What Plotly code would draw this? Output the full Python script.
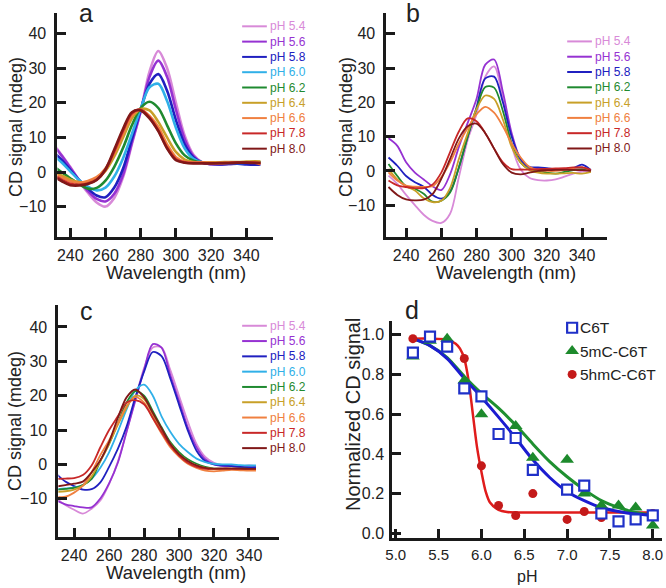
import plotly.graph_objects as go

W, H = 666, 588
FONT = "Liberation Sans, Arial, Helvetica, sans-serif"

# ---------------- data ----------------
ph_names = ['pH 5.4', 'pH 5.6', 'pH 5.8', 'pH 6.0', 'pH 6.2', 'pH 6.4', 'pH 6.6', 'pH 7.8', 'pH 8.0']
ph_colors = ['#d88ad8', '#9632d2', '#2020c0', '#30b0e8', '#1f8a30', '#c8a028', '#f08040', '#c82828', '#801818']

# panel a
wl_a = [230, 235, 240, 245, 250, 255, 260, 265, 270, 275, 280, 285, 290, 295, 300, 305, 310, 315, 320, 325, 330, 335, 340, 345, 348]
a_54 = [8.5, 5.0, 1.5, -2.5, -6.0, -8.8, -10.0, -7.5, -1.5, 8.0, 17.5, 29.0, 35.0, 30.0, 20.0, 10.5, 5.0, 2.8, 2.2, 2.3, 2.5, 2.7, 2.8, 2.8, 2.7]
a_56 = [8.0, 4.8, 1.2, -2.3, -5.5, -7.8, -8.5, -6.3, -0.8, 8.5, 17.5, 27.5, 32.2, 27.5, 18.0, 9.5, 4.6, 2.7, 2.3, 2.2, 2.3, 2.5, 2.6, 2.7, 2.7]
a_58 = [6.0, 3.6, 0.6, -2.3, -4.8, -6.8, -7.3, -4.5, 1.0, 9.5, 18.0, 25.5, 28.3, 23.5, 15.0, 8.0, 4.2, 2.7, 2.3, 2.2, 2.3, 2.4, 2.2, 2.1, 2.1]
a_60 = [5.0, 2.8, 0.2, -2.3, -4.2, -5.3, -4.5, -1.3, 4.0, 11.0, 18.3, 24.5, 25.5, 20.5, 12.8, 6.8, 3.8, 2.8, 2.5, 2.5, 2.6, 2.6, 2.7, 2.7, 2.7]
a_62 = [1.8, 0.0, -1.8, -3.5, -4.8, -4.6, -2.5, 1.5, 7.0, 13.5, 18.5, 20.3, 18.5, 13.5, 8.3, 4.8, 3.3, 2.8, 2.7, 2.7, 2.8, 2.8, 2.8, 2.8, 2.8]
a_64 = [0.2, -1.0, -2.2, -2.9, -2.9, -2.0, 0.3, 4.5, 10.0, 15.5, 18.2, 17.8, 14.5, 10.0, 5.8, 3.6, 2.9, 2.8, 2.8, 2.8, 2.9, 2.9, 3.0, 3.1, 3.0]
a_66 = [-0.3, -1.5, -2.7, -3.1, -2.6, -1.5, 1.0, 5.5, 11.0, 16.3, 18.0, 16.2, 13.0, 8.0, 4.3, 3.0, 2.8, 2.8, 2.7, 2.7, 2.7, 2.8, 2.8, 2.7, 2.2]
a_78 = [-0.8, -2.2, -3.4, -3.7, -3.3, -2.2, 0.6, 6.0, 12.0, 17.0, 18.0, 15.8, 12.0, 7.0, 3.7, 2.8, 2.6, 2.6, 2.5, 2.5, 2.6, 2.7, 2.7, 2.7, 2.6]
a_80 = [-1.2, -2.6, -3.8, -3.9, -3.5, -2.3, 0.8, 6.5, 12.5, 17.3, 17.8, 15.5, 11.8, 6.8, 3.4, 2.7, 2.5, 2.5, 2.5, 2.6, 2.6, 2.7, 2.7, 2.6, 2.6]

# panel b (no pH 6.0)
wl_b = [230, 235, 240, 245, 250, 255, 260, 265, 270, 275, 280, 285, 290, 295, 300, 305, 310, 315, 320, 325, 330, 335, 340, 345]
b_54 = [-1.4, -3.8, -7.0, -10.0, -12.8, -14.6, -15.2, -12.5, -1.8, 9.0, 16.5, 27.5, 30.5, 21.0, 7.5, 0.5, -2.0, -2.7, -2.8, -2.5, -1.7, -0.8, -0.2, 0.0]
b_56 = [9.5, 7.3, 2.5, -0.5, -2.5, -4.5, -5.6, -1.0, 7.0, 14.0, 21.0, 31.0, 32.5, 23.0, 11.0, 3.5, 1.0, 0.5, 0.3, 0.3, 0.5, 0.8, 1.0, 0.0]
b_58 = [3.9, 1.5, -1.5, -3.3, -4.6, -7.0, -8.1, -6.0, 1.0, 10.0, 18.5, 27.0, 27.5, 20.0, 10.0, 3.5, 1.2, 1.0, 0.8, 0.5, 0.5, 0.8, 1.8, 0.2]
b_62 = [2.0, -1.5, -4.5, -5.2, -6.7, -9.0, -8.7, -6.3, 1.0, 10.0, 18.0, 24.5, 24.3, 17.5, 8.0, 2.5, 0.5, 0.0, -0.5, -0.8, -0.3, 0.2, 0.5, 0.0]
b_64 = [0.6, -2.5, -4.5, -5.7, -8.0, -9.1, -8.7, -5.0, 3.5, 11.0, 18.0, 22.0, 21.0, 15.0, 7.0, 2.5, 0.3, -0.5, -0.8, -0.8, -0.7, -0.6, -0.8, -0.3]
b_66 = [-0.4, -2.8, -4.3, -4.6, -4.7, -4.5, -1.8, 2.5, 8.0, 12.5, 16.5, 18.7, 17.0, 13.0, 8.0, 4.0, 1.2, 0.2, 0.0, 0.0, 0.3, 0.8, 1.0, 0.0]
b_78 = [-2.8, -4.2, -4.7, -5.0, -5.0, -4.0, -0.5, 5.5, 11.5, 15.3, 14.5, 11.0, 6.5, 2.5, 0.5, 0.4, 0.4, 0.5, 0.6, 0.7, 0.8, 1.0, 1.0, 0.3]
b_80 = [-4.7, -7.0, -8.3, -8.6, -8.4, -6.8, -2.3, 3.5, 9.5, 13.0, 13.8, 11.0, 6.5, 2.0, -0.5, -1.0, -0.5, 0.0, 0.2, 0.3, 0.3, 0.3, 0.2, 0.0]

# panel c
wl_c = [230, 235, 240, 245, 250, 255, 260, 265, 270, 275, 280, 285, 290, 295, 300, 305, 310, 315, 320, 325, 330, 335, 340, 344]
c_54 = [-10.0, -11.8, -13.2, -14.3, -12.9, -10.5, -5.7, 0.8, 9.5, 19.0, 28.0, 34.0, 34.0, 27.5, 20.0, 12.5, 6.0, 2.2, 0.5, -0.2, -0.4, -0.5, -0.3, -0.5]
c_56 = [-10.5, -11.6, -12.1, -12.5, -12.5, -9.9, -5.5, 0.5, 9.5, 18.5, 27.5, 35.0, 34.0, 26.0, 18.5, 10.8, 5.0, 1.5, 0.0, -0.5, -0.5, -0.8, -1.0, -1.0]
c_58 = [-2.8, -5.0, -6.3, -7.3, -7.2, -5.2, -0.7, 4.5, 11.0, 19.5, 27.0, 32.7, 31.5, 25.0, 17.4, 9.9, 4.0, 1.0, 0.0, -0.3, -0.5, -0.7, -0.8, -0.8]
c_60 = [-7.2, -7.0, -6.7, -6.0, -4.2, -1.0, 3.5, 9.5, 16.0, 21.5, 23.2, 20.0, 14.0, 9.5, 6.0, 3.6, 1.7, 0.7, 0.2, 0.0, 0.0, -0.2, -0.3, -0.3]
c_62 = [-7.4, -7.1, -6.8, -6.0, -4.2, 1.0, 6.0, 12.0, 18.0, 21.3, 20.0, 15.5, 10.8, 6.5, 3.6, 1.5, 0.2, -0.7, -1.2, -1.2, -1.2, -1.2, -1.3, -1.3]
c_64 = [-8.0, -7.8, -7.3, -6.2, -3.5, 1.0, 6.0, 11.5, 16.5, 20.0, 19.0, 14.5, 10.0, 6.0, 3.0, 1.0, -0.3, -1.0, -1.3, -1.3, -1.3, -1.3, -1.4, -1.4]
c_66 = [-9.4, -9.4, -8.2, -6.2, -2.3, 2.7, 7.0, 12.0, 17.0, 19.6, 18.0, 13.5, 9.0, 5.0, 2.3, 0.2, -1.0, -1.8, -2.0, -1.8, -1.6, -1.7, -1.8, -1.8]
c_78 = [-4.2, -4.1, -4.0, -3.1, -0.3, 5.0, 10.0, 14.0, 18.0, 18.7, 17.5, 13.5, 9.4, 5.5, 2.6, 0.5, -0.7, -1.3, -1.3, -1.2, -1.2, -1.3, -1.3, -1.3]
c_80 = [-6.4, -6.0, -5.6, -5.0, -2.3, 1.2, 6.5, 13.5, 19.5, 21.8, 19.5, 15.0, 10.5, 6.0, 3.0, 1.0, -0.3, -1.0, -1.2, -1.2, -1.2, -1.2, -1.3, -1.3]

# panel d
ph_c6t = [5.2, 5.4, 5.6, 5.8, 6.0, 6.2, 6.4, 6.6, 7.0, 7.2, 7.4, 7.6, 7.8, 8.0]
val_c6t = [0.91, 0.99, 0.94, 0.73, 0.69, 0.50, 0.48, 0.32, 0.22, 0.24, 0.10, 0.06, 0.07, 0.09]
ph_5mc = [5.2, 5.4, 5.6, 5.8, 6.0, 6.4, 6.6, 7.0, 7.2, 7.4, 7.6, 7.8, 8.0]
val_5mc = [0.89, 0.97, 0.98, 0.77, 0.60, 0.54, 0.38, 0.37, 0.20, 0.14, 0.14, 0.13, 0.04]
ph_5hmc = [5.2, 5.8, 6.0, 6.2, 6.4, 6.6, 7.0, 7.2, 7.4, 8.0]
val_5hmc = [0.98, 0.88, 0.34, 0.14, 0.09, 0.20, 0.07, 0.11, 0.08, 0.10]

fit_ph = [5.2, 5.4, 5.6, 5.8, 6.0, 6.2, 6.4, 6.6, 6.8, 7.0, 7.2, 7.4, 7.6, 7.8, 8.0]
fit_c6t = [0.98, 0.945, 0.88, 0.78, 0.685, 0.585, 0.48, 0.37, 0.28, 0.21, 0.165, 0.13, 0.11, 0.097, 0.09]
fit_5mc = [0.98, 0.945, 0.885, 0.79, 0.705, 0.63, 0.545, 0.45, 0.36, 0.285, 0.22, 0.165, 0.13, 0.105, 0.09]
fit_hmc_ph = [5.2, 5.4, 5.6, 5.7, 5.75, 5.8, 5.85, 5.9, 5.95, 6.0, 6.05, 6.1, 6.2, 6.3, 6.5, 7.0, 7.5, 8.0]
fit_5hmc = [0.98, 0.98, 0.975, 0.955, 0.93, 0.88, 0.77, 0.60, 0.43, 0.31, 0.21, 0.155, 0.118, 0.108, 0.105, 0.105, 0.105, 0.105]

d_names = ['C6T', '5mC-C6T', '5hmC-C6T']
d_colors = ['#1f30c8', '#1d8a2c', '#c41a1a']

wl_ticks = [240, 260, 280, 300, 320, 340]
cd_ticks = [-10, 0, 10, 20, 30, 40]
ph_ticks = [5.0, 5.5, 6.0, 6.5, 7.0, 7.5, 8.0]
norm_ticks = [0.0, 0.2, 0.4, 0.6, 0.8, 1.0]


def px(x):
    return x / W


def py(y):
    return 1 - y / H


fig = go.Figure()

panels = [
    ('x', 'y', wl_a, [a_54, a_56, a_58, a_60, a_62, a_64, a_66, a_78, a_80], list(range(9)), 2.6),
    ('x2', 'y2', wl_b, [b_54, b_56, b_58, b_62, b_64, b_66, b_78, b_80], [0, 1, 2, 4, 5, 6, 7, 8], 1.8),
    ('x3', 'y3', wl_c, [c_54, c_56, c_58, c_60, c_62, c_64, c_66, c_78, c_80], list(range(9)), 1.8),
]
for xa, ya, wl, series, idx, lw in panels:
    for s, i in zip(series, idx):
        fig.add_trace(go.Scatter(x=wl, y=s, mode='lines', xaxis=xa, yaxis=ya,
                                 line=dict(color=ph_colors[i], width=lw, shape='spline', smoothing=0.9),
                                 showlegend=False, hoverinfo='skip'))

# panel d fits
fig.add_trace(go.Scatter(x=fit_hmc_ph, y=fit_5hmc, mode='lines', xaxis='x4', yaxis='y4',
                         line=dict(color='#e01c1c', width=2.5, shape='spline', smoothing=0.8), showlegend=False))
fig.add_trace(go.Scatter(x=fit_ph, y=fit_5mc, mode='lines', xaxis='x4', yaxis='y4',
                         line=dict(color='#1f9030', width=3, shape='spline', smoothing=0.8), showlegend=False))
fig.add_trace(go.Scatter(x=fit_ph, y=fit_c6t, mode='lines', xaxis='x4', yaxis='y4',
                         line=dict(color='#1c1cd0', width=3, shape='spline', smoothing=0.8), showlegend=False))
# panel d markers
fig.add_trace(go.Scatter(x=ph_5hmc, y=val_5hmc, mode='markers', xaxis='x4', yaxis='y4',
                         marker=dict(symbol='circle', size=9, color=d_colors[2]), showlegend=False))
fig.add_trace(go.Scatter(x=ph_5mc, y=val_5mc, mode='markers', xaxis='x4', yaxis='y4',
                         marker=dict(symbol='triangle-up', size=12, color=d_colors[1]), showlegend=False))
fig.add_trace(go.Scatter(x=ph_c6t, y=val_c6t, mode='markers', xaxis='x4', yaxis='y4',
                         marker=dict(symbol='square', size=10, color='white',
                                     line=dict(color=d_colors[0], width=2.2)), showlegend=False))

# legend symbols for panel d on a pixel overlay axis
leg_d_x = [572, 572, 572]
leg_d_y = [330, 353.5, 377]
fig.add_trace(go.Scatter(x=[leg_d_x[0]], y=[leg_d_y[0]], mode='markers', xaxis='x5', yaxis='y5',
                         marker=dict(symbol='square', size=10, color='white', line=dict(color=d_colors[0], width=2.2)),
                         showlegend=False, hoverinfo='skip'))
fig.add_trace(go.Scatter(x=[leg_d_x[1]], y=[leg_d_y[1]], mode='markers', xaxis='x5', yaxis='y5',
                         marker=dict(symbol='triangle-up', size=12, color=d_colors[1]), showlegend=False, hoverinfo='skip'))
fig.add_trace(go.Scatter(x=[leg_d_x[2]], y=[leg_d_y[2]], mode='markers', xaxis='x5', yaxis='y5',
                         marker=dict(symbol='circle', size=9, color=d_colors[2]), showlegend=False, hoverinfo='skip'))

AX = dict(showline=True, linecolor='#1a1a1a', linewidth=3, ticks='inside', ticklen=9, tickwidth=3,
          tickcolor='#1a1a1a', showgrid=False, zeroline=False,
          tickfont=dict(size=16, color='#222222', family=FONT))


def xax(domain, rng, tickvals, fmt=None, anchor='y', size=16):
    d = dict(AX, domain=domain, range=rng, tickvals=tickvals, anchor=anchor, ticklabelstandoff=1)
    d['tickfont'] = dict(size=size, color='#222222', family=FONT)
    if fmt:
        d['tickformat'] = fmt
    return d


def yax(domain, rng, tickvals, fmt=None, anchor='x', standoff=5):
    d = dict(AX, domain=domain, range=rng, tickvals=tickvals, anchor=anchor, ticklabelstandoff=standoff)
    if fmt:
        d['tickformat'] = fmt
    return d


fig.update_layout(
    width=W, height=H, margin=dict(l=0, r=0, t=0, b=0),
    paper_bgcolor='white', plot_bgcolor='rgba(0,0,0,0)',
    font=dict(family=FONT, color='#222222'),
    xaxis=xax([px(51), px(269)], [232.7, 355], wl_ticks, anchor='y'),
    yaxis=yax([py(239), py(13)], [-18.9, 46.0], cd_ticks, anchor='x'),
    xaxis2=xax([px(384), px(607)], [228.8, 354], wl_ticks, anchor='y2'),
    yaxis2=yax([py(239), py(13)], [-19.4, 46.1], cd_ticks, anchor='x2'),
    xaxis3=xax([px(52), px(275)], [231, 357], wl_ticks, anchor='y3'),
    yaxis3=yax([py(541), py(307)], [-21.2, 46.4], cd_ticks, anchor='x3'),
    xaxis4=xax([px(390), px(663)], [4.96, 8.108], ph_ticks, fmt='.1f', anchor='y4', size=15),
    yaxis4=yax([py(542), py(323)], [-0.025, 1.07], norm_ticks, fmt='.1f', anchor='x4', standoff=2),
    xaxis5=dict(domain=[0, 1], range=[0, W], visible=False, anchor='y5', fixedrange=True),
    yaxis5=dict(domain=[0, 1], range=[H, 0], visible=False, anchor='x5', fixedrange=True),
)

annotations = []
shapes = []


def text(x, y, s, size, color='#222222', xanchor='center', angle=0):
    annotations.append(dict(x=px(x), y=py(y), xref='paper', yref='paper', text=s, showarrow=False,
                            xanchor=xanchor, yanchor='middle', textangle=angle,
                            font=dict(size=size, color=color, family=FONT)))


# panel letters
text(80, 13, 'a', 25)
text(411, 13, 'b', 25)
text(80, 313, 'c', 25)
text(410, 312, 'd', 25)

# axis titles
text(171, 274, 'Wavelength (nm)', 18.5)
text(505, 274, 'Wavelength (nm)', 18.5)
text(171, 576, 'Wavelength (nm)', 18.5)
text(9, 128, 'CD signal (mdeg)', 18, angle=-90)
text(343, 128, 'CD signal (mdeg)', 18, angle=-90)
text(8, 424, 'CD signal (mdeg)', 18, angle=-90)
text(350, 417, 'Normalized CD signal', 20, angle=-90)
text(526, 580, 'pH', 16)

# legends of the spectra panels
legend_specs = [
    (238, 26.5, list(range(9))),
    (567, 41.7, [0, 1, 2, 4, 5, 6, 7, 8]),
    (238, 328, list(range(9))),
]
for x0, y0, idx in legend_specs:
    for k, i in enumerate(idx):
        yy = y0 + k * 15.4
        shapes.append(dict(type='line', xref='paper', yref='paper', x0=px(x0), x1=px(x0 + 25),
                           y0=py(yy), y1=py(yy), line=dict(color=ph_colors[i], width=2)))
        text(x0 + 26, yy, ph_names[i], 12, color=ph_colors[i], xanchor='left')

# legend text of panel d
for name, yy in zip(d_names, leg_d_y):
    text(578, yy, name, 15.5, xanchor='left')

fig.update_layout(annotations=annotations, shapes=shapes)
fig.write_html('out.html', config={'displayModeBar': False},
               post_script="document.body.style.margin='0px';document.body.style.padding='0px';")
